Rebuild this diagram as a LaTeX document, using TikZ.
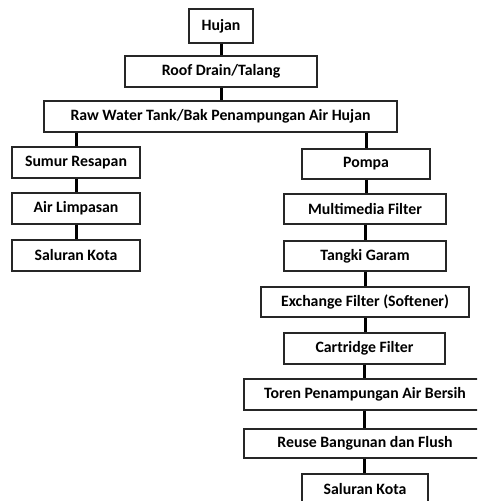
\documentclass[tikz,border=0pt]{standalone}
\usepackage{fontspec}
\setmainfont{Carlito}
\begin{document}
\begin{tikzpicture}[x=1pt,y=-1pt,
  box/.style={draw=black!85,line width=1.3pt,fill=white,inner sep=0pt,font=\bfseries\fontsize{15.8}{17}\selectfont},
  link/.style={line width=3pt,black}]
\useasboundingbox (0,0) rectangle (477,501);
\clip (0,0) rectangle (477,501);
\newcommand{\bx}[5]{\node[box,minimum width={#3-#2},minimum height={#5-#4}] (#1) at ({(#2+#3)/2},{(#4+#5)/2})}
\bx{hujan}{189}{253}{9}{43} {Hujan};
\bx{roof}{125}{317}{56}{87} {Roof Drain/Talang};
\bx{raw}{44}{397}{101}{132} {Raw Water Tank/Bak Penampungan Air Hujan};
\bx{sumur}{12}{140}{147}{178} {Sumur Resapan};
\bx{limpas}{12}{140}{193}{224} {Air Limpasan};
\bx{kotaL}{12}{140}{240}{271} {Saluran Kota};
\bx{pompa}{302}{430}{149}{179} {Pompa};
\bx{multi}{284}{446}{194}{224} {Multimedia Filter};
\bx{tangki}{284}{446}{241}{271} {Tangki Garam};
\bx{exch}{261}{469}{287}{317} {Exchange Filter (Softener)};
\bx{cart}{284}{445}{333}{364} {Cartridge Filter};
\bx{toren}{244}{486}{379}{410} {Toren Penampungan Air Bersih};
\bx{reuse}{244}{486}{429}{458} {Reuse Bangunan dan Flush};
\bx{kotaR}{302}{428}{474}{505} {Saluran Kota};
\draw[link] (hujan.south) -- (roof.north);
\draw[link] (roof.south) -- (raw.north -| roof.south);
\draw[link] (raw.south -| sumur.north) -- (sumur.north);
\draw[link] (raw.south -| pompa.north) -- (pompa.north);
\draw[link] (sumur.south) -- (limpas.north);
\draw[link] (limpas.south) -- (kotaL.north);
\draw[link] (pompa.south) -- (multi.north -| pompa.south);
\draw[link] (multi.south) -- (tangki.north);
\draw[link] (tangki.south) -- (exch.north -| tangki.south);
\draw[link] (exch.south) -- (cart.north -| exch.south);
\draw[link] (cart.south) -- (toren.north -| cart.south);
\draw[link] (toren.south -| cart.south) -- (reuse.north -| cart.south);
\draw[link] (reuse.south -| cart.south) -- (kotaR.north -| cart.south);
\end{tikzpicture}
\end{document}
